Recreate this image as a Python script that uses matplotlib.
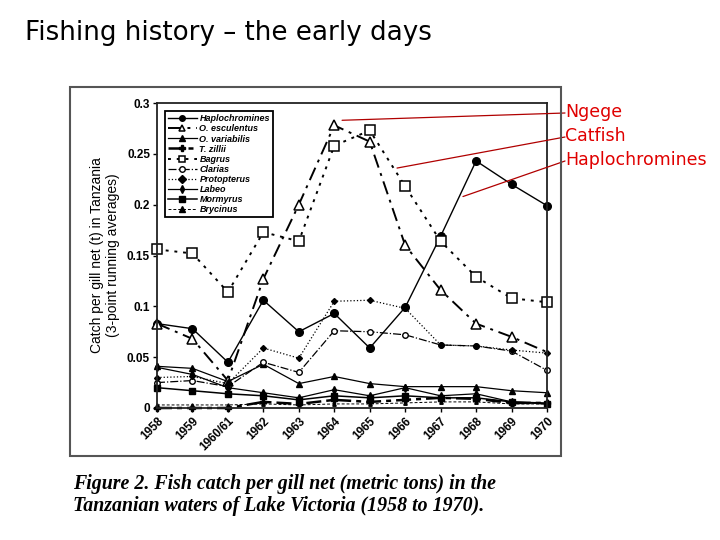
import matplotlib
matplotlib.use('Agg')
from matplotlib import pyplot as plt
from matplotlib.patches import Rectangle

# years on the x axis (3-point running averages)
years = ['1958', '1959', '1960/61', '1962', '1963', '1964', '1965',
         '1966', '1967', '1968', '1969', '1970']

# catch per gill net (t)
haplochromines = [0.083, 0.078, 0.045, 0.106, 0.075, 0.093, 0.059, 0.099, 0.169, 0.243, 0.220, 0.199]
o_esculentus   = [0.083, 0.068, 0.027, 0.127, 0.200, 0.278, 0.262, 0.160, 0.116, 0.083, 0.070, 0.055]
o_variabilis   = [0.041, 0.039, 0.026, 0.043, 0.024, 0.031, 0.024, 0.021, 0.021, 0.021, 0.017, 0.015]
t_zillii       = [0.000, 0.000, 0.000, 0.006, 0.004, 0.008, 0.006, 0.008, 0.010, 0.009, 0.005, 0.005]
bagrus         = [0.156, 0.152, 0.114, 0.173, 0.164, 0.258, 0.273, 0.218, 0.164, 0.129, 0.108, 0.104]
clarias        = [0.025, 0.027, 0.021, 0.045, 0.035, 0.076, 0.075, 0.072, 0.062, 0.061, 0.056, 0.037]
protopterus    = [0.030, 0.031, 0.024, 0.059, 0.049, 0.105, 0.106, 0.098, 0.062, 0.061, 0.057, 0.054]
labeo          = [0.040, 0.033, 0.020, 0.015, 0.010, 0.018, 0.012, 0.020, 0.012, 0.014, 0.006, 0.005]
mormyrus       = [0.020, 0.017, 0.014, 0.012, 0.008, 0.012, 0.010, 0.012, 0.010, 0.010, 0.006, 0.004]
brycinus       = [0.003, 0.003, 0.003, 0.004, 0.003, 0.004, 0.004, 0.005, 0.006, 0.006, 0.004, 0.004]

y_ticks = [0, 0.05, 0.1, 0.15, 0.2, 0.25, 0.3]
y_tick_labels = ['0', '0.05', '0.1', '0.15', '0.2', '0.25', '0.3']

W, H = 720, 540

def fpos(x, y):
    # slide pixel position -> figure fraction
    return x / W, 1 - y / H

fig = plt.figure(figsize=(7.2, 5.4), dpi=100)
fig.patch.set_facecolor('white')

# slide title
fig.text(*fpos(25, 33), 'Fishing history \u2013 the early days', fontsize=18.8,
         family='DejaVu Sans', va='center', ha='left')

# grey frame of the scanned figure
fig.patches.append(Rectangle(fpos(70, 456), 491 / W, 369 / H, transform=fig.transFigure,
                             fill=False, edgecolor='#555555', lw=1.5))

ax = fig.add_axes([157 / W, 1 - 408 / H, 390 / W, 305 / H])
x = list(range(len(years)))

k = 'black'
ax.plot(x, haplochromines, color=k, lw=1.0, marker='o', ms=5.5, label='Haplochromines', clip_on=False)
ax.plot(x, o_esculentus, color=k, lw=1.4, ls=(0, (7, 3, 1.5, 3)), marker='^', ms=7, mfc='white',
        mew=1.1, markevery=list(range(len(years) - 1)), label='O. esculentus', clip_on=False)
ax.plot(x, o_variabilis, color=k, lw=0.9, marker='^', ms=5, label='O. variabilis', clip_on=False)
ax.plot(x, t_zillii, color=k, lw=1.8, ls=(0, (6, 2, 2, 2)), marker='P', ms=4.5, label='T. zillii', clip_on=False)
ax.plot(x, bagrus, color=k, lw=1.4, ls=(0, (1.5, 3)), marker='s', ms=7, mfc='white', mew=1.1,
        label='Bagrus', clip_on=False)
ax.plot(x, clarias, color=k, lw=0.9, ls='-.', marker='o', ms=4, mfc='white', label='Clarias', clip_on=False)
ax.plot(x, protopterus, color=k, lw=0.9, ls=':', marker='D', ms=3, label='Protopterus', clip_on=False)
ax.plot(x, labeo, color=k, lw=0.9, marker='d', ms=4, label='Labeo', clip_on=False)
ax.plot(x, mormyrus, color=k, lw=1.1, marker='s', ms=5, label='Mormyrus', clip_on=False)
ax.plot(x, brycinus, color=k, lw=0.7, ls=(0, (3, 2)), marker='^', ms=2.5, label='Brycinus', clip_on=False)

ax.set_xlim(0, len(years) - 1)
ax.set_ylim(0, 0.3)
ax.set_yticks(y_ticks)
ax.set_yticklabels(y_tick_labels, fontsize=8.5, fontweight='bold', family='Liberation Sans')
ax.set_xticks(x)
ax.set_xticklabels(years, fontsize=8.5, fontweight='bold', family='Liberation Sans',
                   rotation=45, ha='right', rotation_mode='anchor')
ax.tick_params(length=3, width=1, pad=2)
for s in ax.spines.values():
    s.set_linewidth(1.3)
    s.set_color('#222222')

ax.set_ylabel('Catch per gill net (t) in Tanzania\n(3-point running averages)',
              fontsize=10, family='Liberation Sans', labelpad=5, linespacing=1.2)

leg = ax.legend(loc='upper left', bbox_to_anchor=(0.008, 0.988), fancybox=False,
                edgecolor='black', framealpha=1, handlelength=3.2, labelspacing=0.12,
                borderpad=0.35, handletextpad=0.3,
                prop={'size': 6.5, 'style': 'italic', 'weight': 'bold', 'family': 'Liberation Sans'})
leg.get_frame().set_linewidth(1.3)
for h in leg.legend_handles:
    h.set_markersize(4)

# caption of the scanned figure
fig.text(*fpos(73, 495), 'Figure 2. Fish catch per gill net (metric tons) in the\n'
         'Tanzanian waters of Lake Victoria (1958 to 1970).',
         fontsize=14.3, family='Liberation Serif', style='italic', weight='bold',
         va='center', ha='left', linespacing=1.2)

# red call-outs
red = '#e00000'
callouts = [('Ngege', 112, (5.22, 0.283)),
            ('Catfish', 136, (6.77, 0.236)),
            ('Haplochromines', 160, (8.63, 0.208))]
for label, ty, xy in callouts:
    fig.text(*fpos(565, ty), label, color=red, fontsize=12.5, family='DejaVu Sans',
             va='center', ha='left')
    ax.annotate('', xy=xy, xycoords='data', xytext=fpos(565, ty + 1),
                textcoords='figure fraction',
                arrowprops=dict(arrowstyle='-', color='#b00000', lw=0.9,
                                shrinkA=0, shrinkB=0))

fig.savefig('out.png', dpi=100)
